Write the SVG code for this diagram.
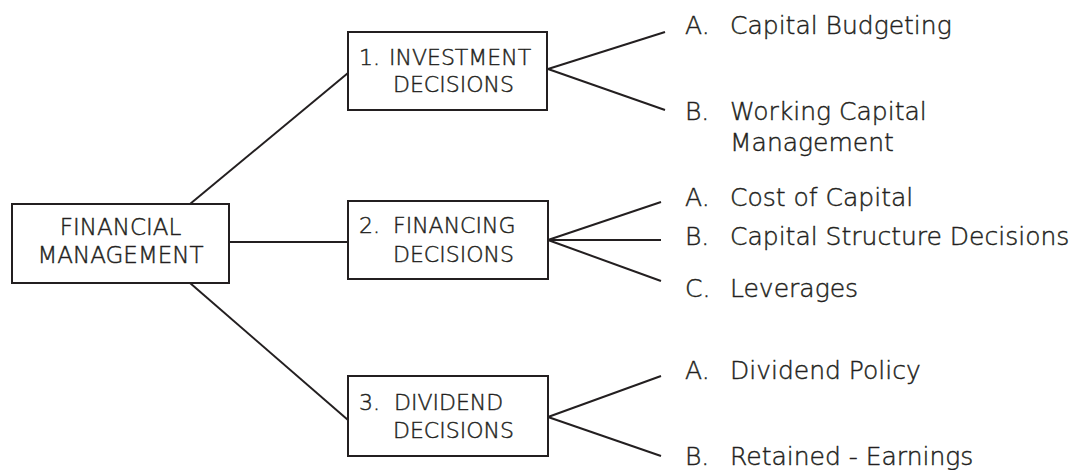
<svg xmlns="http://www.w3.org/2000/svg" width="1074" height="470" viewBox="0 0 1074 470">
<style>
.box{fill:#fff;stroke:#231f20;stroke-width:2}
.ln{stroke:#231f20;stroke-width:2;fill:none}
.t{font-family:"DejaVu Sans",sans-serif;font-weight:300;fill:#231f20;stroke:#231f20;stroke-width:0.45}
.bt{font-size:22px}
.rt{font-size:25px}
</style>
<rect width="1074" height="470" fill="#fff"/>
<g id="connectors">
<line class="ln" x1="190" y1="204" x2="348" y2="73"/>
<line class="ln" x1="229" y1="242" x2="348" y2="242"/>
<line class="ln" x1="190" y1="283" x2="348" y2="420"/>
<line class="ln" x1="548" y1="69" x2="665" y2="32"/>
<line class="ln" x1="548" y1="69" x2="665" y2="110"/>
<line class="ln" x1="548" y1="240" x2="661" y2="202"/>
<line class="ln" x1="548" y1="240" x2="661" y2="240"/>
<line class="ln" x1="548" y1="240" x2="661" y2="281"/>
<line class="ln" x1="548" y1="417" x2="661" y2="376"/>
<line class="ln" x1="548" y1="417" x2="661" y2="456"/>
</g>
<g id="fm">
<rect class="box" x="12" y="204" width="217" height="79"/>
<text class="t" font-size="23" x="120.5" y="235" text-anchor="middle">FINANCIAL</text>
<text class="t" font-size="23" x="120.5" y="263" text-anchor="middle">MANAGEMENT</text>
</g>
<g id="investment">
<rect class="box" x="348" y="32" width="199" height="78"/>
<text class="t bt" x="359" y="65">1.</text>
<text class="t bt" x="389" y="65">INVESTMENT</text>
<text class="t bt" x="393" y="92">DECISIONS</text>
</g>
<g id="financing">
<rect class="box" x="348" y="201" width="200" height="78"/>
<text class="t bt" x="359" y="233">2.</text>
<text class="t bt" x="393" y="233">FINANCING</text>
<text class="t bt" x="393" y="262">DECISIONS</text>
</g>
<g id="dividend">
<rect class="box" x="348" y="376" width="200" height="80"/>
<text class="t bt" x="359" y="410">3.</text>
<text class="t bt" x="394" y="410">DIVIDEND</text>
<text class="t bt" x="393" y="438">DECISIONS</text>
</g>
<g id="inv-a"><text class="t rt" x="685" y="34">A.</text><text class="t rt" x="730" y="34">Capital Budgeting</text></g>
<g id="inv-b"><text class="t rt" x="685" y="120">B.</text><text class="t rt" x="730" y="120">Working Capital</text><text class="t rt" x="730" y="151">Management</text></g>
<g id="fin-a"><text class="t rt" x="685" y="206">A.</text><text class="t rt" x="730" y="206">Cost of Capital</text></g>
<g id="fin-b"><text class="t rt" x="685" y="245">B.</text><text class="t rt" x="730" y="245">Capital Structure Decisions</text></g>
<g id="fin-c"><text class="t rt" x="685" y="297">C.</text><text class="t rt" x="730" y="297">Leverages</text></g>
<g id="div-a"><text class="t rt" x="685" y="379">A.</text><text class="t rt" x="730" y="379">Dividend Policy</text></g>
<g id="div-b"><text class="t rt" x="685" y="465">B.</text><text class="t rt" x="730" y="465">Retained - Earnings</text></g>
</svg>
